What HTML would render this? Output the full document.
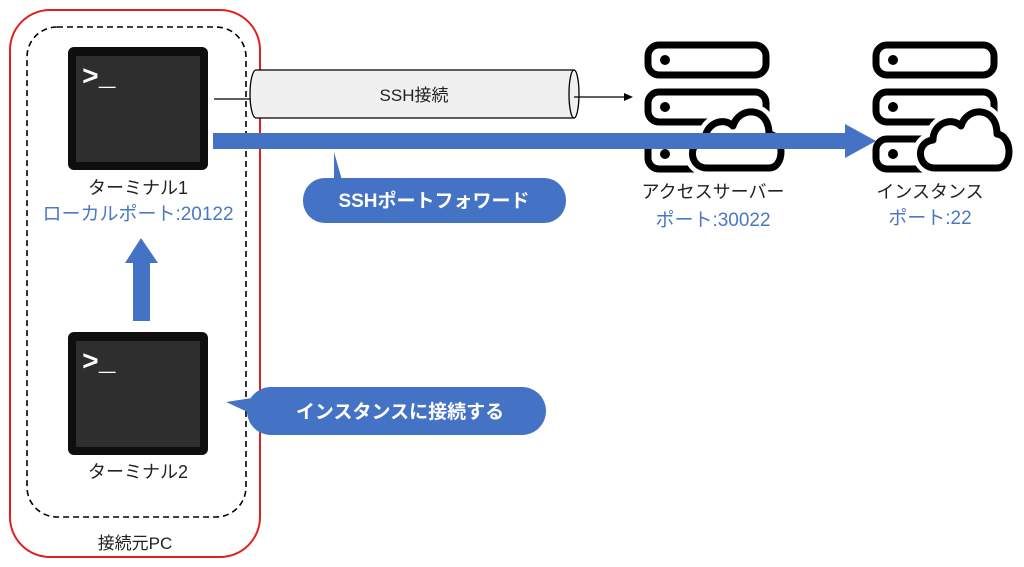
<!DOCTYPE html>
<html><head><meta charset="utf-8"><style>
html,body{margin:0;padding:0;background:#fff;}
svg{display:block;font-family:"Liberation Sans","Noto Sans CJK JP",sans-serif;}
</style></head><body>
<svg width="1024" height="567" viewBox="0 0 1024 567" xmlns="http://www.w3.org/2000/svg">
<defs>
<g id="srv">
  <rect x="3" y="3" width="118" height="30" rx="11" fill="none" stroke="#000" stroke-width="7"/>
  <rect x="3" y="50" width="118" height="30" rx="11" fill="none" stroke="#000" stroke-width="7"/>
  <rect x="3" y="97" width="118" height="30" rx="11" fill="none" stroke="#000" stroke-width="7"/>
  <circle cx="20" cy="18" r="5"/><circle cx="20" cy="65" r="5"/><circle cx="20" cy="112" r="5"/>
  <path d="M62,126 C44,126 42,100 60,98 C60,82 78,74 88,84 C94,64 124,64 124,92 C140,94 140,126 124,126 Z" fill="#fff" stroke="#fff" stroke-width="16" stroke-linejoin="round"/>
  <path d="M62,126 C44,126 42,100 60,98 C60,82 78,74 88,84 C94,64 124,64 124,92 C140,94 140,126 124,126 Z" fill="#fff" stroke="#000" stroke-width="7" stroke-linejoin="round"/>
</g>
<g id="term">
  <rect x="0" y="0" width="140" height="123" rx="6" fill="#0e0e0e"/>
  <rect x="8" y="9" width="124" height="106" fill="#2e2e2e"/>
  <text x="14" y="38" fill="#fff" font-size="28" font-weight="bold" font-family="Liberation Mono,monospace">&gt;_</text>
</g>
</defs>
<rect x="10" y="10" width="250" height="547" rx="40" fill="none" stroke="#e02020" stroke-width="2"/>
<rect x="27" y="27" width="219" height="490" rx="30" fill="none" stroke="#000" stroke-width="1.6" stroke-dasharray="6,4"/>
<use href="#term" x="68" y="47"/>
<use href="#term" x="68" y="332"/>
<text x="138" y="194" font-size="18" text-anchor="middle" fill="#222">ターミナル1</text>
<text x="138" y="220" font-size="19" text-anchor="middle" fill="#4a78c4">ローカルポート:20122</text>
<text x="138" y="478" font-size="18" text-anchor="middle" fill="#222">ターミナル2</text>
<text x="135" y="549" font-size="17" text-anchor="middle" fill="#222">接続元PC</text>
<line x1="214" y1="99" x2="252" y2="99" stroke="#000" stroke-width="1.2"/>
<path d="M256,70 L574,70 L574,118 L256,118 A6,24 0 0 1 256,70 Z" fill="#f0f0f0" stroke="#000" stroke-width="1.3"/>
<ellipse cx="574" cy="94" rx="5" ry="24" fill="#f0f0f0" stroke="#000" stroke-width="1.3"/>
<line x1="574" y1="97" x2="625" y2="97" stroke="#000" stroke-width="1.2"/>
<path d="M633,97 L624,93 L624,101 Z" fill="#000"/>
<text x="414" y="101" font-size="17" text-anchor="middle" fill="#222">SSH接続</text>
<use href="#srv" x="645" y="42"/>
<use href="#srv" x="873" y="42"/>
<rect x="213" y="133" width="634" height="16" fill="#4472c4"/>
<path d="M845,124 L876,141 L845,158 Z" fill="#4472c4"/>
<text x="713" y="198" font-size="18" text-anchor="middle" fill="#222">アクセスサーバー</text>
<text x="713" y="226" font-size="19" text-anchor="middle" fill="#4a78c4">ポート:30022</text>
<text x="930" y="198" font-size="18" text-anchor="middle" fill="#222">インスタンス</text>
<text x="930" y="224" font-size="19" text-anchor="middle" fill="#4a78c4">ポート:22</text>
<path d="M334,152 L334,180 L342,180 Z" fill="#4472c4"/>
<rect x="303" y="178" width="263" height="45" rx="22" fill="#4472c4"/>
<text x="434" y="207" font-size="19" font-weight="bold" text-anchor="middle" fill="#fff">SSHポートフォワード</text>
<rect x="133" y="262" width="17" height="59" fill="#4472c4"/>
<path d="M125,263 L141,238 L158,263 Z" fill="#4472c4"/>
<path d="M226,402 L252,398 L252,414 Z" fill="#4472c4"/>
<rect x="247" y="387" width="299" height="48" rx="24" fill="#4472c4"/>
<text x="400" y="418" font-size="19" font-weight="bold" text-anchor="middle" fill="#fff">インスタンスに接続する</text>
</svg>
</body></html>
